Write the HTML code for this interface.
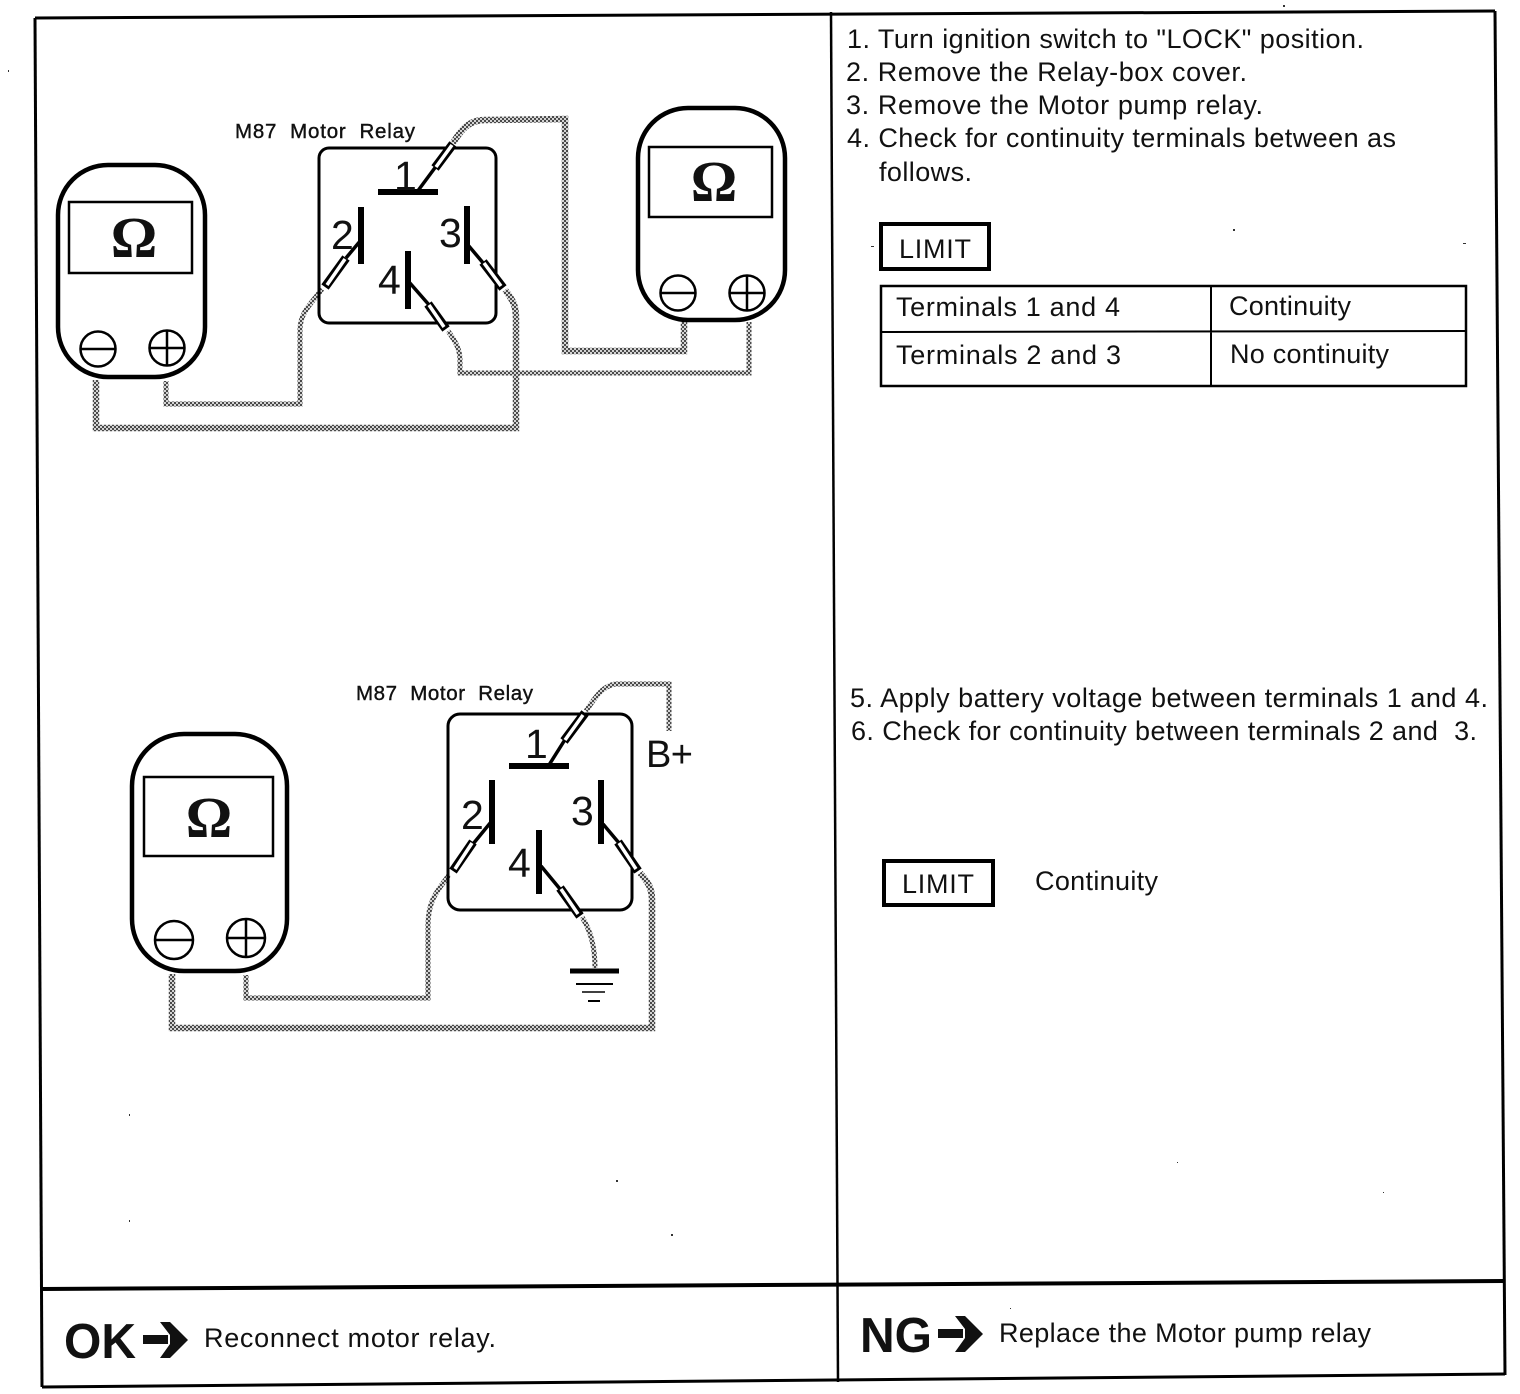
<!DOCTYPE html>
<html lang="en">
<head>
<meta charset="utf-8">
<title>Motor Relay Check</title>
<style>
html,body{margin:0;padding:0;background:#fff}
svg{display:block}
text{font-family:"Liberation Sans",sans-serif;fill:#111}
.t{font-size:27px}
.s{font-size:20.5px;stroke:#111;stroke-width:.4px}
.d{font-size:41px}
.o{font-family:"Liberation Serif",serif;font-weight:bold;font-size:58px;text-anchor:middle}
.b{font-weight:bold;font-size:49px}
.w{fill:none;stroke:url(#dith);stroke-width:6.5;stroke-linejoin:miter}
.thin{stroke-width:5}
.k{stroke:#000;fill:none}
.p1{stroke:#000;stroke-width:10;fill:none}
.p2{stroke:#fff;stroke-width:3.5;fill:none}
</style>
</head>
<body>
<svg xmlns="http://www.w3.org/2000/svg" width="1520" height="1394" viewBox="0 0 1520 1394">
<defs>
<pattern id="dith" width="4" height="4" patternUnits="userSpaceOnUse">
<rect width="4" height="4" fill="#d4d4d4"/>
<rect width="2" height="2" fill="#4a4a4a"/>
<rect x="2" y="2" width="2" height="2" fill="#4a4a4a"/>
</pattern>
</defs>
<rect width="1520" height="1394" fill="#fff"/>

<!-- frame -->
<g class="k">
<path d="M35 18L1495 11" stroke-width="3"/>
<path d="M35 18L42 1387" stroke-width="3"/>
<path d="M1495 11L1505 1375" stroke-width="3"/>
<path d="M42 1387L1505 1374" stroke-width="3"/>
<path d="M831 12L838 1382" stroke-width="2.5"/>
<path d="M42 1289L1504 1281" stroke-width="4"/>
</g>

<!-- wires top -->
<path class="w" d="M453 143C462 128 470 120 485 120L565 119V351H684V322"/>
<path class="w thin" d="M322 289C312 303 300 312 300 330V404H166V381"/>
<path class="w thin" d="M448 331C456 342 460 350 460 360V373H749V322"/>
<path class="w" d="M505 290C513 300 516 306 516 318V428H96V380"/>

<!-- meter 1 -->
<rect x="58" y="165" width="147" height="212" rx="50" ry="50" class="k" stroke-width="4.5"/>
<rect x="69" y="202" width="123" height="71" class="k" stroke-width="2.5"/>
<text class="o" x="134" y="257">Ω</text>
<circle cx="98" cy="349" r="17.5" class="k" stroke-width="2.5"/>
<path d="M81 349H116" class="k" stroke-width="2.5"/>
<circle cx="167" cy="348" r="17.5" class="k" stroke-width="2.5"/>
<path d="M149 348H185M167 330V366" class="k" stroke-width="2.5"/>

<!-- relay 1 -->
<rect x="319" y="148" width="177" height="175" rx="10" class="k" stroke-width="3"/>
<text class="s" x="235" y="138" textLength="180">M87&#160;&#160;Motor&#160;&#160;Relay</text>
<path d="M378 192H438" class="k" stroke-width="6"/>
<path d="M417 192L437 165" class="k" stroke-width="3.5"/>
<path d="M435 168L453 144" class="p1" style="stroke-width:9"/><path d="M436 167L452 145" class="p2"/>
<text class="d" x="394" y="190">1</text>
<path d="M361 207V264" class="k" stroke-width="6"/>
<path d="M361 240L346 258" class="k" stroke-width="3.5"/>
<path d="M346 258L325 287" class="p1" style="stroke-width:9"/><path d="M345 259L327 285" class="p2"/>
<text class="d" x="331" y="249">2</text>
<path d="M467 206V264" class="k" stroke-width="6"/>
<path d="M468 245L484 264" class="k" stroke-width="3.5"/>
<path d="M483 262L503 288" class="p1" style="stroke-width:9"/><path d="M484 263L501 286" class="p2"/>
<text class="d" x="439" y="247">3</text>
<path d="M408 251V309" class="k" stroke-width="6"/>
<path d="M409 282L430 306" class="k" stroke-width="3.5"/>
<path d="M428 304L446 329" class="p1" style="stroke-width:9"/><path d="M429 305L444 327" class="p2"/>
<text class="d" x="378" y="294">4</text>

<!-- meter 2 -->
<rect x="638" y="108" width="147" height="212" rx="50" ry="50" class="k" stroke-width="4.5"/>
<rect x="649" y="147" width="123" height="70" class="k" stroke-width="2.5"/>
<text class="o" x="714" y="201">Ω</text>
<circle cx="678" cy="293" r="17.5" class="k" stroke-width="2.5"/>
<path d="M661 293H696" class="k" stroke-width="2.5"/>
<circle cx="747" cy="293" r="17.5" class="k" stroke-width="2.5"/>
<path d="M729 293H765M747 275V311" class="k" stroke-width="2.5"/>

<!-- wires bottom -->
<path class="w" d="M669 731V684H615C603 686 596 696 586 711" style="stroke-width:5"/>
<path class="w thin" d="M449 875C438 890 428 900 428 925V998H246V975"/>
<path class="w" d="M640 873C648 882 652 888 652 900V1028H172V974"/>
<path class="w thin" d="M582 917C590 930 595 945 595 968"/>

<!-- meter 3 -->
<rect x="132" y="734" width="155" height="237" rx="52" ry="52" class="k" stroke-width="4.5"/>
<rect x="144" y="777" width="129" height="79" class="k" stroke-width="2.5"/>
<text class="o" x="209" y="837">Ω</text>
<circle cx="174" cy="940" r="19" class="k" stroke-width="2.5"/>
<path d="M155 940H193" class="k" stroke-width="2.5"/>
<circle cx="246" cy="938" r="19" class="k" stroke-width="2.5"/>
<path d="M227 938H265M246 919V957" class="k" stroke-width="2.5"/>

<!-- relay 2 -->
<rect x="448" y="714" width="184" height="196" rx="12" class="k" stroke-width="3"/>
<text class="s" x="356" y="700" textLength="177">M87&#160;&#160;Motor&#160;&#160;Relay</text>
<path d="M509 766H569" class="k" stroke-width="6"/>
<path d="M549 765L566 738" class="k" stroke-width="3.5"/>
<path d="M564 741L585 713" class="p1" style="stroke-width:9"/><path d="M565 740L583 715" class="p2"/>
<text class="d" x="525" y="758">1</text>
<path d="M492 780V844" class="k" stroke-width="6"/>
<path d="M491 822L473 844" class="k" stroke-width="3.5"/>
<path d="M473 842L453 871" class="p1" style="stroke-width:9"/><path d="M472 843L455 869" class="p2"/>
<text class="d" x="461" y="829">2</text>
<path d="M601 780V844" class="k" stroke-width="6"/>
<path d="M603 824L619 843" class="k" stroke-width="3.5"/>
<path d="M618 842L638 871" class="p1" style="stroke-width:9"/><path d="M619 843L636 869" class="p2"/>
<text class="d" x="571" y="825">3</text>
<path d="M539 830V894" class="k" stroke-width="6"/>
<path d="M541 866L560 889" class="k" stroke-width="3.5"/>
<path d="M560 888L580 916" class="p1" style="stroke-width:9"/><path d="M561 889L578 914" class="p2"/>
<text class="d" x="508" y="877">4</text>
<text x="646" y="767" style="font-size:38px" textLength="47">B+</text>
<path d="M570 971H619" class="k" stroke-width="5"/>
<path d="M576 984H613" class="k" stroke-width="2"/>
<path d="M582 992H605" class="k" stroke-width="1.5"/>
<path d="M588 1001H600" class="k" stroke-width="2"/>

<!-- right text -->
<text class="t" x="847" y="48" textLength="517">1. Turn ignition switch to "LOCK" position.</text>
<text class="t" x="846" y="81" textLength="401">2. Remove the Relay-box cover.</text>
<text class="t" x="846" y="114" textLength="417">3. Remove the Motor pump relay.</text>
<text class="t" x="847" y="147" textLength="549">4. Check for continuity terminals between as</text>
<text class="t" x="879" y="181" textLength="93">follows.</text>

<rect x="881" y="224" width="108" height="45" class="k" stroke-width="4"/>
<text class="t" x="899" y="258" textLength="72">LIMIT</text>
<rect x="881" y="286" width="585" height="100" class="k" stroke-width="2.5"/>
<path d="M881 332L1466 331M1211 286V386" class="k" stroke-width="2"/>
<text class="t" x="896" y="316" textLength="224">Terminals 1 and 4</text>
<text class="t" x="1229" y="315" textLength="122">Continuity</text>
<text class="t" x="896" y="364" textLength="225">Terminals 2 and 3</text>
<text class="t" x="1230" y="363" textLength="159">No continuity</text>

<text class="t" x="850" y="707" textLength="638">5. Apply battery voltage between terminals 1 and 4.</text>
<text class="t" x="851" y="740" textLength="626">6. Check for continuity between terminals 2 and&#160;&#160;3.</text>
<rect x="884" y="861" width="109" height="44" class="k" stroke-width="4"/>
<text class="t" x="902" y="893" textLength="72">LIMIT</text>
<text class="t" x="1035" y="890" textLength="123">Continuity</text>

<!-- footer -->
<text class="b" x="64" y="1358" textLength="72" lengthAdjust="spacingAndGlyphs">OK</text>
<path d="M143 1335H168V1344H143Z M160 1322H170L188 1340L170 1358H160L170 1344V1335Z" fill="#111"/>
<text class="t" x="204" y="1347" textLength="292">Reconnect motor relay.</text>
<text class="b" x="860" y="1352" textLength="72" lengthAdjust="spacingAndGlyphs">NG</text>
<path d="M938 1329H963V1338H938Z M955 1316H965L983 1334L965 1352H955L965 1338V1329Z" fill="#111"/>
<text class="t" x="999" y="1342" textLength="372">Replace the Motor pump relay</text>

<!-- specks -->
<g fill="#333">
<rect x="1283" y="5" width="2" height="2"/><rect x="1233" y="229" width="2" height="2"/>
<rect x="1463" y="243" width="3" height="1"/><rect x="671" y="1234" width="2" height="2"/>
<rect x="616" y="1180" width="2" height="2"/><rect x="8" y="70" width="1" height="2"/>
<rect x="129" y="1220" width="1" height="2"/><rect x="129" y="1114" width="1" height="2"/>
<rect x="1177" y="1162" width="1" height="1"/><rect x="1383" y="1192" width="1" height="1"/>
<rect x="871" y="246" width="3" height="1"/><rect x="1010" y="1308" width="1" height="1"/>
</g>
</svg>
</body>
</html>
